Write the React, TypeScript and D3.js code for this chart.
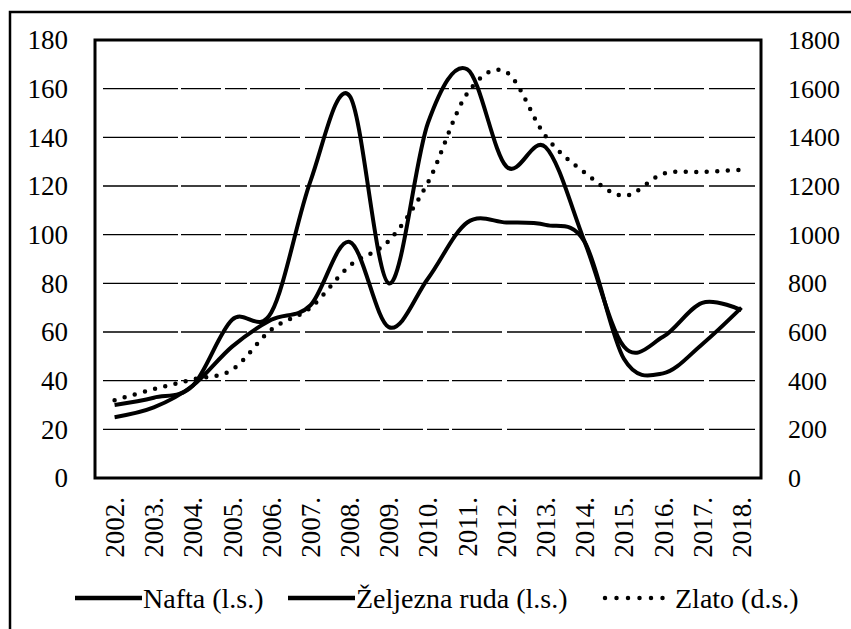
import * as d3 from 'd3';
import { useEffect, useRef } from 'react';

const years = ['2002.', '2003.', '2004.', '2005.', '2006.', '2007.', '2008.', '2009.', '2010.',
    '2011.', '2012.', '2013.', '2014.', '2015.', '2016.', '2017.', '2018.'];
const nafta = [25, 29, 38, 54, 65, 71, 97, 62, 82, 105, 105, 104, 97, 49, 43, 55, 70];
const zeljezo = [30, 33, 38, 65, 68, 122, 157, 80, 146, 168, 128, 136, 97, 54, 58, 72, 69];
const zlato = [320, 365, 405, 445, 610, 700, 872, 975, 1215, 1580, 1668, 1405, 1255, 1160, 1250, 1258, 1266];
const leftTicks = [0, 20, 40, 60, 80, 100, 120, 140, 160, 180];
const rightTicks = [0, 200, 400, 600, 800, 1000, 1200, 1400, 1600, 1800];
const legendItems = [
    { label: 'Nafta (l.s.)', dotted: false },
    { label: 'Željezna ruda (l.s.)', dotted: false },
    { label: 'Zlato (d.s.)', dotted: true },
];

function App() {
    const d3Container = useRef(null);

    useEffect(() => {
        const width = 851, height = 629;
        const plot = { left: 95, top: 40, right: 761, bottom: 478 };
        const font = 'Liberation Serif, Tinos, Times New Roman, DejaVu Serif, serif';

        const svg = d3.select(d3Container.current)
            .append('svg')
            .attr('width', width)
            .attr('height', height)
            .attr('font-family', font)
            .style('position', 'absolute')
            .style('left', 0)
            .style('top', 0)
            .style('background', '#fff');

        const x = d3.scaleBand<string>()
            .domain(years)
            .range([plot.left, plot.right]);

        const yLeft = d3.scaleLinear()
            .domain([0, 180])
            .range([plot.bottom, plot.top]);

        const yRight = d3.scaleLinear()
            .domain([0, 1800])
            .range([plot.bottom, plot.top]);

        // outer frame (cut off on the right and bottom)
        svg.append('rect')
            .attr('x', 10)
            .attr('y', 12)
            .attr('width', 1000)
            .attr('height', 1000)
            .attr('fill', 'none')
            .attr('stroke', '#000')
            .attr('stroke-width', 2.5);

        // gridlines
        svg.append('g')
            .selectAll('line')
            .data(leftTicks.filter(t => t > 0 && t < 180))
            .join('line')
            .attr('x1', plot.left + 8)
            .attr('x2', plot.right - 6)
            .attr('y1', d => yLeft(d))
            .attr('y2', d => yLeft(d))
            .attr('stroke', '#000')
            .attr('stroke-width', 1.4)
            .attr('stroke-dasharray', '75 3 40 4 22 3 50 5');

        // plot border
        svg.append('rect')
            .attr('x', plot.left)
            .attr('y', plot.top)
            .attr('width', plot.right - plot.left)
            .attr('height', plot.bottom - plot.top)
            .attr('fill', 'none')
            .attr('stroke', '#000')
            .attr('stroke-width', 3);

        // left axis labels
        svg.append('g')
            .selectAll('text')
            .data(leftTicks)
            .join('text')
            .attr('x', 68)
            .attr('y', d => yLeft(d))
            .attr('dy', '0.35em')
            .attr('text-anchor', 'end')
            .attr('font-size', 27)
            .text(d => d);

        // right axis labels
        svg.append('g')
            .selectAll('text')
            .data(rightTicks)
            .join('text')
            .attr('x', 788)
            .attr('y', d => yRight(d))
            .attr('dy', '0.35em')
            .attr('text-anchor', 'start')
            .attr('font-size', 26)
            .text(d => d);

        // x labels, rotated
        svg.append('g')
            .selectAll('text')
            .data(years)
            .join('text')
            .attr('transform', d => `translate(${(x(d) as number) + x.bandwidth() / 2}, 497) rotate(-90)`)
            .attr('dy', '0.35em')
            .attr('text-anchor', 'end')
            .attr('font-size', 27)
            .text(d => d);

        const curve = d3.curveCardinal.tension(0);

        const lineLeft = d3.line<number>()
            .x((_, i) => (x(years[i]) as number) + x.bandwidth() / 2)
            .y(d => yLeft(d))
            .curve(curve);

        const lineRight = d3.line<number>()
            .x((_, i) => (x(years[i]) as number) + x.bandwidth() / 2)
            .y(d => yRight(d))
            .curve(curve);

        svg.append('path')
            .datum(zlato)
            .attr('fill', 'none')
            .attr('stroke', '#000')
            .attr('stroke-width', 4.5)
            .attr('stroke-linecap', 'round')
            .attr('stroke-dasharray', '0 10.5')
            .attr('d', lineRight);

        svg.append('path')
            .datum(nafta)
            .attr('fill', 'none')
            .attr('stroke', '#000')
            .attr('stroke-width', 4)
            .attr('d', lineLeft);

        svg.append('path')
            .datum(zeljezo)
            .attr('fill', 'none')
            .attr('stroke', '#000')
            .attr('stroke-width', 4)
            .attr('d', lineLeft);

        // legend
        const legendX = [75, 288, 603];
        const legendY = 598;
        const legend = svg.append('g');
        legendItems.forEach((item, i) => {
            const x0 = legendX[i];
            const x1 = item.dotted ? x0 + 60 : x0 + 67;
            legend.append('line')
                .attr('x1', item.dotted ? x0 + 2 : x0)
                .attr('x2', x1)
                .attr('y1', legendY)
                .attr('y2', legendY)
                .attr('stroke', '#000')
                .attr('stroke-width', 4.5)
                .attr('stroke-linecap', item.dotted ? 'round' : 'butt')
                .attr('stroke-dasharray', item.dotted ? '0 11.5' : null);
            legend.append('text')
                .attr('x', item.dotted ? x1 + 12 : x1 + 1)
                .attr('y', legendY + 10)
                .attr('font-size', 28)
                .text(item.label);
        });

        return () => {
            svg.remove();
        };
    }, []);

    return (
        <div ref={d3Container} />
    );
}

export default App;
